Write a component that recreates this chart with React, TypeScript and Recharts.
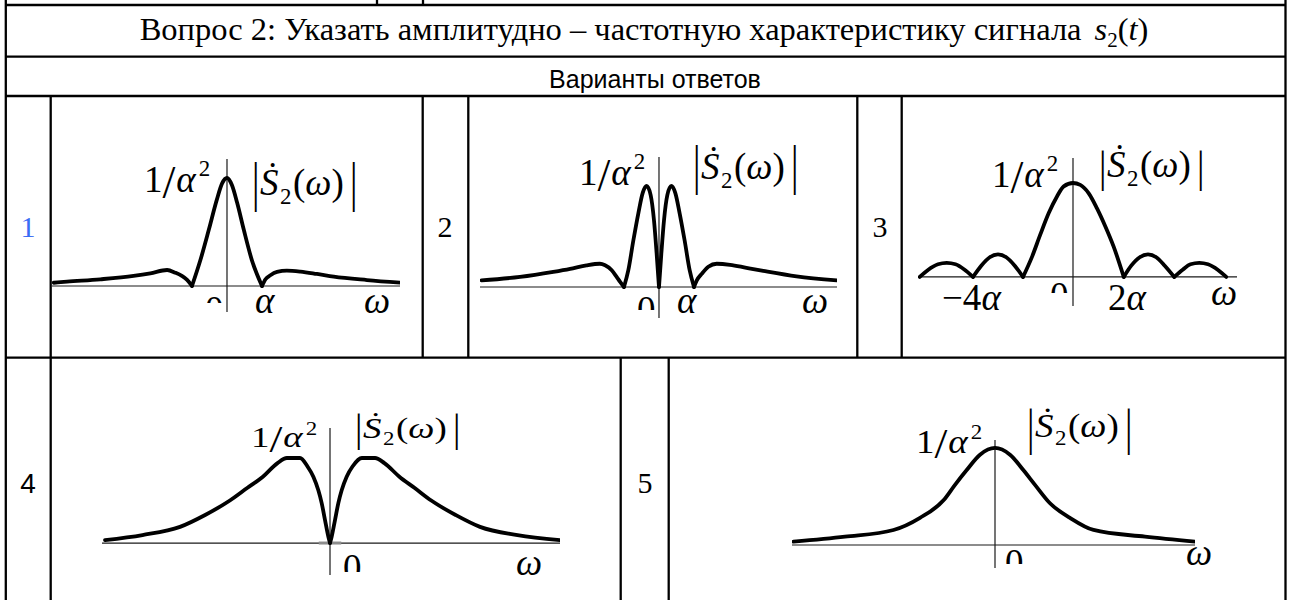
import React from 'react';
import { LineChart, Line, XAxis, YAxis, ReferenceLine } from 'recharts';

// ---------------- data ----------------
// ω in the chart's own unit (α for variants 1-3), |S2(ω)| in units of 1/α²

// Variant 1
const omega1 = [-4.95, -4.57, -3.62, -2.67, -2.19, -1.71, -1.48, -1.29, -1.14, -1.0, -0.76, -0.52, -0.29, -0.14, 0, 0.14, 0.29, 0.48, 0.71, 1.0, 1.1, 1.24, 1.43, 1.71, 2.1, 2.57, 3.05, 4.0, 4.95];
const mag1 = [0.03, 0.04, 0.062, 0.093, 0.117, 0.148, 0.123, 0.093, 0.056, 0, 0.24, 0.52, 0.8, 0.95, 1.0, 0.935, 0.77, 0.52, 0.24, 0, 0.062, 0.099, 0.13, 0.142, 0.133, 0.111, 0.086, 0.055, 0.031];

// Variant 2
const omega2 = [-5.07, -3.97, -3.02, -2.54, -2.07, -1.69, -1.54, -1.35, -1.21, -1.11, -1.0, -0.876, -0.733, -0.59, -0.467, -0.352, -0.238, -0.143, -0.067, 0, 0.067, 0.143, 0.238, 0.352, 0.467, 0.59, 0.733, 0.876, 1.0, 1.08, 1.22, 1.41, 1.65, 2.03, 2.5, 2.98, 3.93, 5.08];
const mag2 = [0.066, 0.1, 0.15, 0.18, 0.215, 0.23, 0.215, 0.166, 0.1, 0.05, 0, 0.166, 0.46, 0.73, 0.93, 1.0, 0.91, 0.66, 0.33, 0, 0.33, 0.66, 0.91, 1.0, 0.93, 0.73, 0.46, 0.166, 0, 0.066, 0.13, 0.2, 0.23, 0.22, 0.19, 0.16, 0.106, 0.066];

// Variant 3
const omega3 = [-6.13, -5.8, -5.4, -5.05, -4.7, -4.35, -4.0, -3.67, -3.33, -3.0, -2.67, -2.33, -2.0, -1.64, -1.31, -0.97, -0.64, -0.37, 0, 0.29, 0.63, 0.96, 1.29, 1.63, 2.03, 2.33, 2.67, 3.0, 3.33, 3.67, 4.05, 4.4, 4.7, 5.05, 5.4, 5.8, 6.13];
const mag3 = [0, 0.075, 0.135, 0.15, 0.135, 0.08, 0, 0.12, 0.21, 0.24, 0.21, 0.12, 0, 0.214, 0.45, 0.68, 0.857, 0.964, 1.0, 0.98, 0.89, 0.73, 0.54, 0.32, 0, 0.12, 0.21, 0.24, 0.21, 0.12, 0, 0.08, 0.135, 0.15, 0.135, 0.075, 0];

// Variant 4
const omega4 = [-6.0, -5.0, -4.0, -3.33, -2.67, -2.2, -1.79, -1.4, -1.15, -0.8, -0.6, -0.444, -0.311, -0.222, -0.133, -0.044, 0, 0.044, 0.133, 0.222, 0.311, 0.444, 0.6, 0.85, 1.2, 1.45, 1.85, 2.25, 2.7, 3.35, 4.0, 5.0, 6.13];
const mag4 = [0.035, 0.094, 0.19, 0.33, 0.5, 0.65, 0.78, 0.94, 1.0, 1.0, 0.9, 0.78, 0.62, 0.47, 0.27, 0.074, 0, 0.074, 0.27, 0.47, 0.62, 0.78, 0.9, 1.0, 1.0, 0.94, 0.78, 0.65, 0.5, 0.33, 0.19, 0.094, 0.035];

// Variant 5
const omega5 = [-4.03, -3.0, -2.03, -1.5, -1.03, -0.8, -0.57, -0.3, 0, 0.3, 0.57, 0.8, 1.1, 1.5, 1.97, 3.0, 4.0];
const mag5 = [0.035, 0.086, 0.155, 0.28, 0.46, 0.62, 0.77, 0.93, 1.0, 0.93, 0.77, 0.62, 0.43, 0.28, 0.155, 0.086, 0.035];

// ---------------- texts ----------------
const titleText = 'Вопрос 2: Указать амплитудно – частотную характеристику сигнала';
const subtitleText = 'Варианты ответов';
const variantNumbers = ['1', '2', '3', '4', '5'];
const ticks1 = ['0', 'α', 'ω'];
const ticks2 = ['0', 'α', 'ω'];
const ticks3 = ['−4', '0', '2', 'ω'];
const ticks4 = ['0', 'ω'];
const ticks5 = ['0', 'ω'];

const SERIF = "'Liberation Serif', 'Times New Roman', serif";
const SANS = "'Liberation Sans', Arial, sans-serif";
const LBL = 37;

type Box = { x: number; y: number; w: number; h: number };
type Pt = { w: number; s: number };

// split a series into lobes at its interior zeros (each lobe keeps its zero end points)
function lobes(omega: number[], mag: number[]): Pt[][] {
  const segs: Pt[][] = [];
  let cur: Pt[] = [];
  omega.forEach((w, i) => {
    cur.push({ w, s: mag[i] });
    if (mag[i] === 0 && i > 0 && i < omega.length - 1) {
      segs.push(cur);
      cur = [{ w, s: mag[i] }];
    }
  });
  if (cur.length > 1) segs.push(cur);
  return segs;
}

function Spectrum(props: {
  omega: number[];
  mag: number[];
  box: Box;
  xDomain: [number, number];
  yDomain: [number, number];
  zeroMark?: boolean;
}) {
  const { omega, mag, box, xDomain, yDomain, zeroMark } = props;
  const segs = lobes(omega, mag);
  return (
    <div style={{ position: 'absolute', left: box.x, top: box.y, width: box.w, height: box.h }}>
      <LineChart width={box.w} height={box.h} margin={{ top: 0, right: 0, bottom: 0, left: 0 }}>
        <XAxis type="number" dataKey="w" domain={xDomain} hide allowDataOverflow />
        <YAxis type="number" dataKey="s" domain={yDomain} hide allowDataOverflow />
        <ReferenceLine y={0} stroke="#1a1a1a" strokeWidth={1.2} />
        <ReferenceLine x={0} stroke="#1a1a1a" strokeWidth={1.2} />
        {zeroMark ? (
          <ReferenceLine segment={[{ x: -0.3, y: 0 }, { x: 0.3, y: 0 }]} stroke="#8c8c8c" strokeWidth={3} />
        ) : null}
        {segs.map((seg, k) => (
          <Line
            key={k}
            name={`lobe${k}`}
            data={seg}
            dataKey="s"
            type="monotone"
            stroke="#000"
            strokeWidth={3.8}
            strokeLinejoin="round"
            strokeLinecap="round"
            dot={false}
            activeDot={false}
            isAnimationActive={false}
          />
        ))}
      </LineChart>
    </div>
  );
}

function Bar({ x, top, bottom, size }: { x: number; top: number; bottom: number; size: number }) {
  const k = (bottom - top) / size;
  return (
    <g transform={`translate(${x} ${bottom}) scale(1 ${k})`}>
      <text x={0} y={-0.218 * size} fontSize={size} fontFamily={SERIF} fill="#000">
        |
      </text>
    </g>
  );
}

function PeakLabel({ x, y, size = LBL, sy = 1 }: { x: number; y: number; size?: number; sy?: number }) {
  return (
    <g transform={`translate(0 ${y}) scale(1 ${sy}) translate(0 ${-y})`}>
      <text x={x} y={y} fontSize={size} fontFamily={SERIF} fill="#000">
        1
        <tspan fontSize={size * 1.25} dy={size * 0.16}>/</tspan>
        <tspan fontStyle="italic" dy={-size * 0.16} dx={1}>α</tspan>
        <tspan fontSize={size * 0.62} dy={-size * 0.42} dx={size * 0.08}>2</tspan>
      </text>
    </g>
  );
}

function SpecLabel(props: { x: number; base: number; top: number; bottom: number; size?: number; sy?: number }) {
  const { x, base, top, bottom } = props;
  const size = props.size ?? LBL;
  const sy = props.sy ?? 1;
  return (
    <g>
      <Bar x={x} top={top} bottom={bottom} size={size} />
      <g transform={`translate(0 ${base}) scale(1 ${sy}) translate(0 ${-base})`}>
        <text x={x + 8} y={base} fontSize={size} fontFamily={SERIF} fontStyle="italic" fill="#000">
          Ṡ
        </text>
        <text x={x + 28} y={base + size * 0.24} fontSize={size * 0.62} fontFamily={SERIF} fill="#000">
          2
        </text>
        <text x={x + 41} y={base} fontSize={size} fontFamily={SERIF} fill="#000">
          (<tspan fontStyle="italic">ω</tspan>)
        </text>
      </g>
      <Bar x={x + 98} top={top} bottom={bottom} size={size} />
    </g>
  );
}

function ZeroLabel({ id, x, top, clip, text, size = LBL }: { id: string; x: number; top: number; clip: number; text: string; size?: number }) {
  return (
    <g>
      <defs>
        <clipPath id={id}>
          <rect x={x - 5} y={top - 10} width={size} height={clip - top + 10} />
        </clipPath>
      </defs>
      <text x={x} y={top + 0.676 * size} fontSize={size} fontFamily={SERIF} fill="#000" clipPath={`url(#${id})`}>
        {text}
      </text>
    </g>
  );
}

function Italic({ x, y, text, size = LBL }: { x: number; y: number; text: string; size?: number }) {
  return (
    <text x={x} y={y} fontSize={size} fontFamily={SERIF} fontStyle="italic" fill="#000">
      {text}
    </text>
  );
}

function Rule({ x1, y1, x2, y2 }: { x1: number; y1: number; x2: number; y2: number }) {
  return <line x1={x1} y1={y1} x2={x2} y2={y2} stroke="#000" strokeWidth={2.3} />;
}

export default function App() {
  const L = 5.8;
  const R = 1285.5;
  const B = 610;
  return (
    <div style={{ position: 'absolute', left: 0, top: 0, width: 1290, height: 600, overflow: 'hidden', background: '#fff' }}>
      <Spectrum omega={omega1} mag={mag1} box={{ x: 52, y: 159, w: 348, h: 153 }} xDomain={[-5.0, 4.943]} yDomain={[-0.241, 1.176]} />
      <Spectrum omega={omega2} mag={mag2} box={{ x: 480, y: 157, w: 357, h: 161 }} xDomain={[-5.114, 5.086]} yDomain={[-0.307, 1.287]} />
      <Spectrum omega={omega3} mag={mag3} box={{ x: 918, y: 158, w: 319, h: 148 }} xDomain={[-6.2, 6.56]} yDomain={[-0.309, 1.266]} />
      <Spectrum omega={omega4} mag={mag4} box={{ x: 102, y: 428, w: 458, h: 147 }} xDomain={[-6.08, 6.133]} yDomain={[-0.376, 1.353]} zeroMark />
      <Spectrum omega={omega5} mag={mag5} box={{ x: 792, y: 440, w: 403, h: 128 }} xDomain={[-4.06, 4.0]} yDomain={[-0.237, 1.082]} />

      <svg width={1290} height={600} style={{ position: 'absolute', left: 0, top: 0 }}>
        {/* table rules */}
        <Rule x1={377} y1={0} x2={377} y2={5} />
        <Rule x1={423} y1={0} x2={423} y2={5} />
        <Rule x1={L} y1={0} x2={L} y2={B} />
        <Rule x1={R} y1={0} x2={R} y2={B} />
        <Rule x1={L} y1={5} x2={R} y2={5} />
        <Rule x1={L} y1={56.7} x2={R} y2={56.7} />
        <Rule x1={L} y1={96} x2={R} y2={96} />
        <Rule x1={L} y1={357.7} x2={R} y2={357.7} />
        <Rule x1={50.7} y1={96} x2={50.7} y2={357.7} />
        <Rule x1={422.7} y1={96} x2={422.7} y2={357.7} />
        <Rule x1={468.3} y1={96} x2={468.3} y2={357.7} />
        <Rule x1={857.3} y1={96} x2={857.3} y2={357.7} />
        <Rule x1={901.7} y1={96} x2={901.7} y2={357.7} />
        <Rule x1={50.7} y1={357.7} x2={50.7} y2={B} />
        <Rule x1={620.7} y1={357.7} x2={620.7} y2={B} />
        <Rule x1={668.7} y1={357.7} x2={668.7} y2={B} />

        {/* title */}
        <text x={644} y={40} textAnchor="middle" fontSize={32.5} fontFamily={SERIF} fill="#000">
          {titleText}
          <tspan dx={13} fontStyle="italic">s</tspan>
          <tspan fontSize={21} dy={7}>2</tspan>
          <tspan dy={-7}>(</tspan>
          <tspan fontStyle="italic">t</tspan>)
        </text>
        <text x={655} y={88} textAnchor="middle" fontSize={25} fontFamily={SANS} fill="#000">
          {subtitleText}
        </text>

        {/* variant numbers */}
        <text x={28} y={237} textAnchor="middle" fontSize={30} fontFamily={SERIF} fill="#3a6cf4">{variantNumbers[0]}</text>
        <text x={445} y={237} textAnchor="middle" fontSize={30} fontFamily={SERIF} fill="#000">{variantNumbers[1]}</text>
        <text x={880} y={237} textAnchor="middle" fontSize={30} fontFamily={SERIF} fill="#000">{variantNumbers[2]}</text>
        <text x={28} y={493} textAnchor="middle" fontSize={28} fontFamily={SANS} fill="#000">{variantNumbers[3]}</text>
        <text x={645} y={493} textAnchor="middle" fontSize={30} fontFamily={SERIF} fill="#000">{variantNumbers[4]}</text>

        {/* chart 1 labels */}
        <PeakLabel x={144} y={192} />
        <SpecLabel x={252} base={195} top={157} bottom={212} />
        <ZeroLabel id="z1" x={205} top={297} clip={303} text={ticks1[0]} />
        <Italic x={255} y={313} text={ticks1[1]} />
        <Italic x={364} y={313} text={ticks1[2]} />

        {/* chart 2 labels */}
        <PeakLabel x={579} y={185} />
        <SpecLabel x={693} base={179} top={140} bottom={195} />
        <ZeroLabel id="z2" x={637} top={297} clip={310} text={ticks2[0]} />
        <Italic x={677} y={313} text={ticks2[1]} />
        <Italic x={802} y={313} text={ticks2[2]} />

        {/* chart 3 labels */}
        <PeakLabel x={992} y={187} />
        <SpecLabel x={1099} base={177} top={148} bottom={192} />
        <text x={942} y={310} fontSize={LBL} fontFamily={SERIF} fill="#000">
          {ticks3[0]}
          <tspan fontStyle="italic">α</tspan>
        </text>
        <ZeroLabel id="z3" x={1050} top={283} clip={293} text={ticks3[1]} />
        <text x={1108} y={310} fontSize={LBL} fontFamily={SERIF} fill="#000">
          {ticks3[2]}
          <tspan fontStyle="italic">α</tspan>
        </text>
        <Italic x={1211} y={305} text={ticks3[3]} />

        {/* chart 4 labels */}
        <PeakLabel x={251} y={447} sy={0.8} />
        <SpecLabel x={355} base={438} top={410} bottom={450} sy={0.8} />
        <ZeroLabel id="z4" x={343} top={555} clip={572} text={ticks4[0]} />
        <Italic x={516} y={575} text={ticks4[1]} />

        {/* chart 5 labels */}
        <PeakLabel x={916} y={453} sy={0.9} />
        <SpecLabel x={1027} base={437} top={405} bottom={455} sy={0.9} />
        <ZeroLabel id="z5" x={1005} top={550} clip={564} text={ticks5[0]} />
        <Italic x={1186} y={565} text={ticks5[1]} />
      </svg>
    </div>
  );
}
